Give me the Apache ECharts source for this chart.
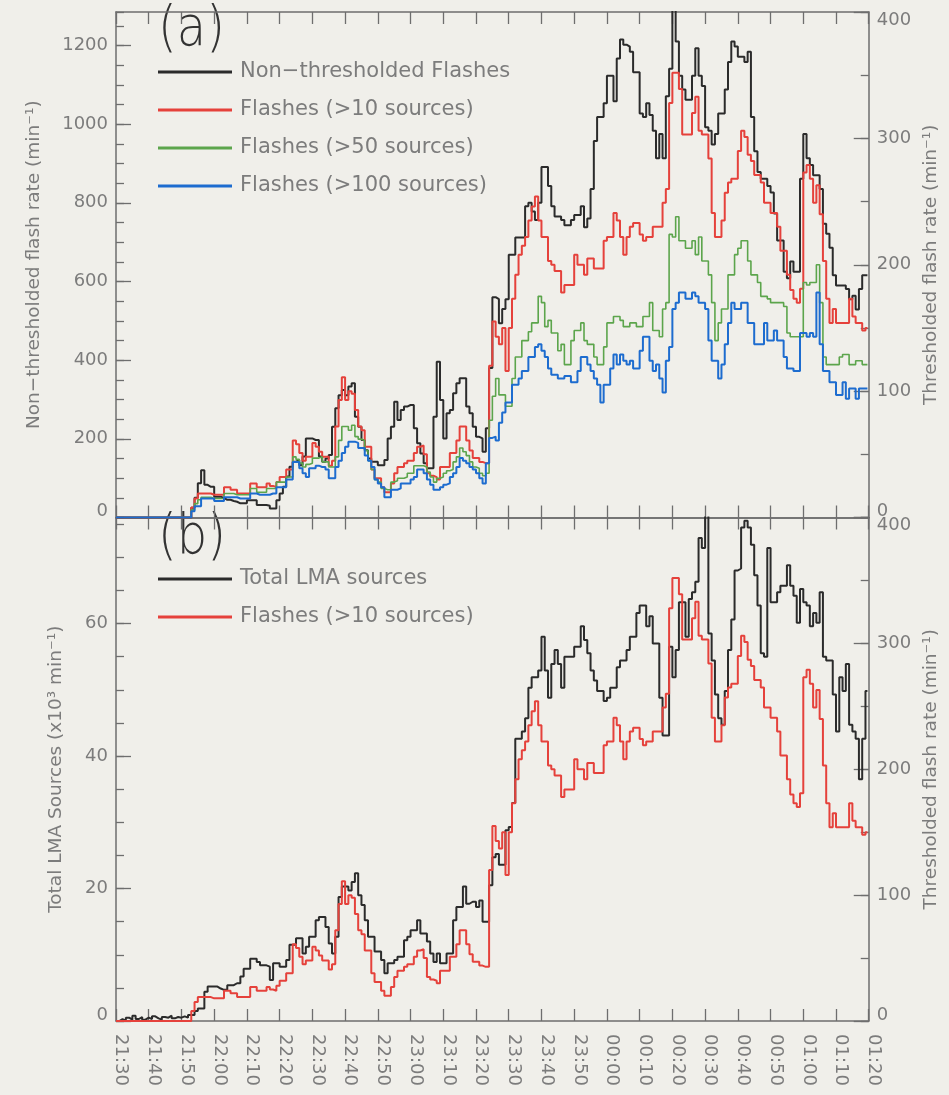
<!DOCTYPE html>
<html><head><meta charset="utf-8">
<script src="https://cdn.jsdelivr.net/npm/echarts@6/dist/echarts.min.js"></script>
<style>html,body{margin:0;padding:0;background:#f0efea;}#c{width:949px;height:1095px;}</style>
</head><body><div id="c"></div>
<script>
// minutes after 21:30, one value per minute
const timeLabels = ['21:30','21:40','21:50','22:00','22:10','22:20','22:30','22:40','22:50','23:00','23:10','23:20','23:30','23:40','23:50','00:00','00:10','00:20','00:30','00:40','00:50','01:00','01:10','01:20'];

// (a) non-thresholded flash rate (left axis, min^-1)
const flashesAll = [0,0,0,0,0,0,0,0,0,0,0,0,0,0,0,0,0,0,0,0,0,0,0,
25,50,87,120,83,78,78,53,53,50,45,45,42,40,36,36,36,44,44,44,32,32,32,30,23,23,44,
61,78,104,129,142,146,133,155,201,201,197,197,155,142,150,159,231,278,311,324,311,333,341,256,231,197,171,150,142,142,133,133,146,201,231,294,248,273,282,286,286,227,189,163,138,125,125,256,396,299,
201,265,273,316,341,354,354,282,265,231,205,201,167,227,380,560,555,494,530,555,
668,668,712,712,712,791,800,778,756,800,891,891,843,791,765,765,756,743,743,756,769,769,791,738,760,835,957,1018,1018,1053,1123,1123,1058,1167,1215,1202,1197,1184,1132,1132,1027,1018,1053,1023,983,913,975,913,1071,1141,
1290,1210,1123,1088,1062,1062,1123,1193,1123,1097,992,983,948,975,1027,1027,1088,1158,1210,1197,1171,1171,1158,1184,1018,931,878,861,861,843,826,773,704,704,625,608,651,625,625,861,975,913,896,870,870,835,747,721,686,616,590,590,590,581,555,564,529,581,616,616];

// thresholded flash rates (right axis, min^-1)
const flashes10 = [0,0,0,0,0,0,0,0,0,0,0,0,0,0,0,0,0,0,0,0,0,0,0,
8,15,19,19,19,19,18,18,18,18,24,24,22,22,19,19,19,19,27,27,24,24,24,27,25,24,28,
32,32,38,38,61,58,51,45,48,48,59,56,52,48,48,41,45,72,93,111,93,100,98,85,72,69,56,56,38,31,31,24,20,20,27,35,40,40,43,45,45,51,56,57,50,35,33,32,30,40,
40,40,51,51,61,72,72,61,53,47,47,44,43,43,120,155,143,137,150,116,
150,173,192,208,215,222,235,246,254,235,222,222,203,200,195,195,178,184,184,184,208,200,200,192,205,205,197,197,197,219,222,222,241,235,222,208,222,230,233,233,224,219,222,222,230,230,230,249,260,328,
352,352,339,303,303,303,320,333,306,303,303,284,241,222,222,235,257,265,268,268,290,306,301,287,282,271,271,265,249,249,241,241,230,211,211,192,180,173,170,181,273,279,268,249,263,240,203,173,154,165,154,154,154,154,173,159,154,154,148,150];

const flashes50 = [0,0,0,0,0,0,0,0,0,0,0,0,0,0,0,0,0,0,0,0,0,0,0,
6,11,14,16,16,16,15,15,15,15,19,19,19,18,18,18,18,18,23,23,20,20,20,23,23,23,28,
28,28,32,32,48,46,43,40,42,43,47,47,48,44,44,40,40,48,61,72,72,69,73,64,62,61,53,45,38,30,28,23,22,22,28,29,31,31,32,35,35,41,41,41,40,36,32,28,31,32,
35,37,38,44,48,55,52,49,44,40,39,35,33,35,77,96,110,97,97,88,
88,110,127,127,140,140,147,154,154,175,170,151,156,146,146,132,137,121,121,140,148,148,154,140,137,137,127,121,121,135,154,154,159,159,156,151,151,154,154,151,151,159,159,170,148,148,143,165,170,224,
222,238,219,219,213,213,219,208,222,203,203,192,170,140,154,165,165,192,192,208,213,219,219,203,192,192,186,175,175,173,170,170,170,170,167,146,143,143,143,143,186,184,186,186,200,170,127,121,121,121,121,127,129,129,121,121,124,124,121,121];

const flashes100 = [0,0,0,0,0,0,0,0,0,0,0,0,0,0,0,0,0,0,0,0,0,0,0,
5,9,9,15,15,15,15,13,13,13,16,16,16,16,15,15,15,15,19,19,18,18,18,18,19,19,24,
24,24,30,30,44,44,39,35,32,39,39,41,40,40,38,31,31,40,45,51,56,60,60,59,55,55,49,45,40,30,27,24,16,16,22,22,23,27,27,27,30,32,38,38,35,30,26,22,22,24,
26,27,32,35,40,47,45,43,40,38,35,31,27,43,63,64,61,75,83,91,
91,105,105,110,116,116,127,127,135,137,132,127,118,113,113,110,110,112,112,107,107,116,127,127,121,116,110,105,91,105,105,118,129,121,129,124,121,124,118,118,132,143,143,124,116,121,110,99,124,135,
165,170,178,178,173,173,178,175,170,170,165,140,124,124,110,121,137,154,170,165,165,170,170,154,154,137,137,137,154,140,140,148,140,140,127,118,118,116,116,146,146,143,146,143,178,137,116,116,107,107,97,97,107,94,102,102,94,102,102,102];

// (b) total LMA sources (x10^3 min^-1)
const lmaSources = [0,0.3,0,0.5,0.2,0.8,0.3,0.6,0.2,0.5,0.3,0.7,0.4,0.2,0.6,0.5,0.8,0.4,0.6,0.5,0.7,0.5,0.9,
0.9,1.5,1.9,1.9,4.4,5.2,5.2,5.2,4.9,4.7,4.7,5.4,5.4,5.7,5.7,6.7,7.9,7.9,9.4,9.4,8.9,8.4,8.4,8.2,6.2,8.7,8.7,
8.2,8.2,9.2,11.5,11.5,12.5,12.5,10.2,11.2,12.7,12.7,15.2,15.7,15.7,14.2,11.7,10.2,12.7,18.7,20.3,20.3,19.7,21,22.3,19,17.5,15.2,12.7,12.7,10.5,10.5,9.2,7.2,8.7,8.7,9.2,9.7,9.7,12.2,12.7,13.7,13.7,15.2,13.2,13.2,12,10.2,8.9,10.2,8.7,
8.7,10.2,10.2,15.2,17.2,17.2,20.3,17.7,18,18,17.2,18.2,15,15,20.5,24.7,25.2,23.6,23.6,28.8,
29.3,32.9,42.6,42.6,43.7,45.7,50.3,51.9,51.9,52.9,58,52.9,48.8,53.9,56,53.9,50.3,55,55,55,56.5,56.5,59.6,57.5,55.5,52.9,51.4,49.8,49.8,48.3,48.8,50.3,50.3,53.4,54.4,54.4,56,58,58,61.6,62.7,62.7,59.6,61.1,57,57,48.8,43.1,43.1,56.5,
51.9,56,63.2,63.2,58,63.7,64.7,66.3,72.9,71.4,76.5,58.5,54.4,49.3,45.7,44.7,49.8,56,60.6,68,68.3,74.5,75.5,74.5,71.9,67.3,62.7,55.5,55,71.4,63.2,63.2,64.7,65.7,65.7,68.8,65.7,64.2,60.1,65.2,63.2,62.7,59.6,61.6,60.1,64.7,55,54.4,54.4,49.3,43.7,51.9,49.8,53.9,44.7,43.7,42.6,36.5,42.6,49.8];

const AX = '#6e6e6e', TXT = '#7c7c7c', FONT = 'DejaVu Sans';
const C_BLACK = '#2b2b2b', C_RED = '#e5413b', C_GREEN = '#5ca54c', C_BLUE = '#1d6ccf';
const LBL = { fontSize: 18, color: TXT, fontFamily: FONT };

function steps(arr) {
  const d = arr.map((v, i) => [i, v]);
  d.push([arr.length - 0.4, arr[arr.length - 1]]);
  return d;
}
function xAx(grid, pos, labels) {
  return {
    type: 'value', gridIndex: grid, position: pos, min: 0, max: 230, interval: 10,
    axisLine: { show: true, onZero: false, lineStyle: { color: AX, width: 1.5 } },
    axisTick: { show: true, inside: true, length: 12, lineStyle: { color: AX, width: 1.3 } },
    axisLabel: labels ? { show: true, rotate: -90, margin: 13, fontSize: 18, color: TXT, fontFamily: FONT,
      formatter: v => '{t|' + timeLabels[Math.round(v / 10)] + '}',
      rich: { t: Object.assign({ padding: [0, 0, 10, 0] }, LBL) } } : { show: false },
    splitLine: { show: false }
  };
}
function yMajor(grid, pos, max, interval, name, nameGap, hideMax, topVal) {
  return {
    type: 'value', gridIndex: grid, position: pos, min: 0, max: max, interval: interval,
    axisLine: { show: true, onZero: false, lineStyle: { color: AX, width: 1.5 } },
    axisTick: { show: true, inside: true, length: 15, lineStyle: { color: AX, width: 1.3 } },
    axisLabel: { show: true, fontSize: 18, color: TXT, fontFamily: FONT, margin: 8,
      showMaxLabel: !hideMax, showMinLabel: true,
      formatter: v => v === 0 ? '{lo|0}' : (v === topVal ? '{hi|' + v + '}' : String(v)),
      rich: { lo: Object.assign({ padding: [0, 0, 12, 0] }, LBL), hi: Object.assign({ padding: [16, 0, 0, 0] }, LBL) } },
    splitLine: { show: false },
    name: name, nameLocation: 'middle', nameRotate: 90, nameGap: nameGap,
    nameTextStyle: { fontSize: 18.5, color: TXT, fontFamily: FONT }
  };
}
function yMinor(grid, pos, max, interval) {
  return {
    type: 'value', gridIndex: grid, position: pos, min: 0, max: max, interval: interval,
    axisLine: { show: false, onZero: false }, axisLabel: { show: false }, splitLine: { show: false },
    axisTick: { show: true, inside: true, length: 8, lineStyle: { color: AX, width: 1.3 } }
  };
}
function line(name, data, color, width, xi, yi) {
  return { name: name, type: 'line', step: 'end', data: steps(data), xAxisIndex: xi, yAxisIndex: yi,
    showSymbol: false, symbol: 'none', color: color, itemStyle: { color: color },
    lineStyle: { color: color, width: width }, animation: false };
}

const chart = echarts.init(document.getElementById('c'), null, { renderer: 'canvas' });
chart.setOption({
  backgroundColor: '#f0efea',
  animation: false,
  grid: [
    { left: 116, top: 12, width: 759, height: 505.5 },
    { left: 116, top: 517.5, width: 759, height: 503.5 }
  ],
  xAxis: [xAx(0, 'bottom', false), xAx(0, 'top', false), xAx(1, 'bottom', true), xAx(1, 'top', false)],
  yAxis: [
    yMajor(0, 'left', 1285, 200, 'Non\u2212thresholded flash rate (min\u207B\u00B9)', 72, true, -1),
    yMinor(0, 'left', 1285, 50),
    yMajor(0, 'right', 400, 100, 'Thresholded flash rate (min\u207B\u00B9)', 50, false, 400),
    yMinor(0, 'right', 400, 50),
    yMajor(1, 'left', 76, 20, 'Total LMA Sources (x10\u00B3 min\u207B\u00B9)', 50, true, -1),
    yMinor(1, 'left', 76, 5),
    yMajor(1, 'right', 400, 100, 'Thresholded flash rate (min\u207B\u00B9)', 50, false, 400),
    yMinor(1, 'right', 400, 50)
  ],
  legend: [
    { data: ['Non\u2212thresholded Flashes', 'Flashes (>10 sources)', 'Flashes (>50 sources)', 'Flashes (>100 sources)'],
      orient: 'vertical', left: 158, top: 61.5, itemWidth: 74, itemHeight: 3, itemGap: 17, icon: 'rect',
      selectedMode: false, padding: 0,
      textStyle: { fontSize: 21, color: TXT, fontFamily: FONT, padding: [0, 0, 0, 3] } },
    { data: ['Total LMA sources', 'Flashes (>10 sources)'],
      orient: 'vertical', left: 158, top: 568.5, itemWidth: 74, itemHeight: 3, itemGap: 17, icon: 'rect',
      selectedMode: false, padding: 0,
      textStyle: { fontSize: 21, color: TXT, fontFamily: FONT, padding: [0, 0, 0, 3] } }
  ],
  graphic: [
    { type: 'text', left: 158, top: 3, scaleY: 1.15, style: { text: '(a)', fontSize: 48, fontFamily: FONT, fontWeight: 200, fill: '#333333' } },
    { type: 'text', left: 158, top: 511, scaleY: 1.15, style: { text: '(b)', fontSize: 48, fontFamily: FONT, fontWeight: 200, fill: '#333333' } }
  ],
  series: [
    line('Non\u2212thresholded Flashes', flashesAll, C_BLACK, 2, 0, 0),
    line('Flashes (>10 sources)', flashes10, C_RED, 2, 0, 2),
    line('Flashes (>50 sources)', flashes50, C_GREEN, 1.6, 0, 2),
    line('Flashes (>100 sources)', flashes100, C_BLUE, 2, 0, 2),
    line('Total LMA sources', lmaSources, C_BLACK, 2, 2, 4),
    line('Flashes (>10 sources)', flashes10, C_RED, 2, 2, 6)
  ]
});
</script>
</body></html>
